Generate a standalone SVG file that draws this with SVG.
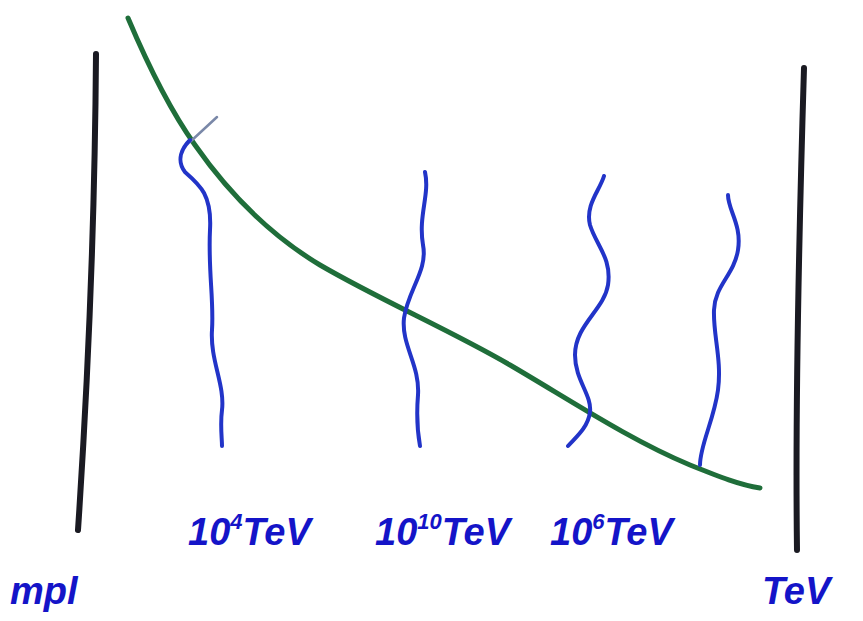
<svg xmlns="http://www.w3.org/2000/svg" width="863" height="621" viewBox="0 0 863 621">
<style>
.bar{fill:none;stroke:#1a1a22;stroke-width:6;stroke-linecap:round}
.green{fill:none;stroke:#1f6e3a;stroke-width:5;stroke-linecap:round}
.wave{fill:none;stroke:#2234c8;stroke-width:4;stroke-linecap:round;stroke-linejoin:round}
.lbl{font-family:"Liberation Sans",Arial,sans-serif;font-weight:bold;font-style:italic;fill:#1414c8;font-size:38px}
.sup{font-size:22px}
</style>
<rect width="863" height="621" fill="#ffffff"/>
<g id="axis-left"><path class="bar" d="M96,54 C95,200 88,380 78,530"/></g>
<g id="axis-right"><path class="bar" d="M804,68 C800,200 795,400 797,550"/></g>
<g id="connectors">
<path class="green" d="M128,18 C150,70 170,110 195,145 C230,195 270,235 320,265 C380,300 450,330 510,365 C570,400 630,440 690,465 C720,477 740,485 760,488"/>
<path d="M190,142 L217,117" fill="none" stroke="#7a88a8" stroke-width="2.5" stroke-linecap="round"/>
<path class="wave" d="M190,140 C182,148 176,160 185,172 C200,185 212,195 210,230 C208,270 214,300 212,330 C210,360 225,385 222,410 C220,425 222,438 222,446"/>
<path class="wave" d="M425,172 C430,195 418,215 423,245 C428,270 408,290 404,318 C401,345 420,365 418,395 C416,420 418,435 420,446"/>
<path class="wave" d="M604,176 C600,190 585,205 590,225 C596,245 612,258 608,285 C604,310 575,325 575,355 C575,380 592,395 590,412 C588,428 575,438 568,446"/>
<path class="wave" d="M728,195 C728,210 742,225 738,250 C734,275 715,285 714,310 C713,335 722,360 718,390 C714,420 700,445 700,465"/>
</g>
<g id="label-mpl"><text class="lbl" x="10" y="604">mpl</text></g>
<g id="label-1"><text class="lbl" x="188" y="545">10<tspan class="sup" dy="-16">4</tspan><tspan dy="16">TeV</tspan></text></g>
<g id="label-2"><text class="lbl" x="375" y="545">10<tspan class="sup" dy="-16">10</tspan><tspan dy="16">TeV</tspan></text></g>
<g id="label-3"><text class="lbl" x="550" y="545">10<tspan class="sup" dy="-16">6</tspan><tspan dy="16">TeV</tspan></text></g>
<g id="label-tev"><text class="lbl" x="762" y="604">TeV</text></g>
</svg>
